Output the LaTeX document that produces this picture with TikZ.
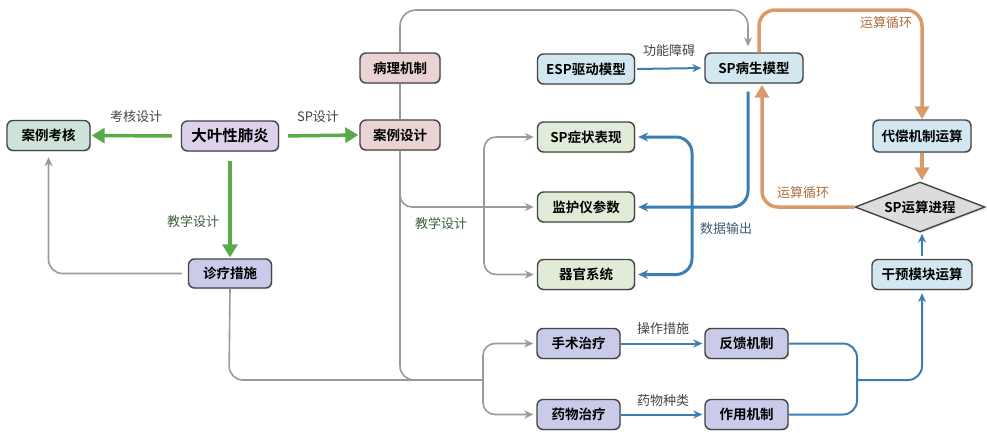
\documentclass[tikz,border=0pt]{standalone}
\usepackage{fontspec}
\setmainfont{Noto Sans CJK SC}[BoldFont={Noto Sans CJK SC Bold}]
\usetikzlibrary{shapes.geometric,arrows.meta,shadows,calc}
\definecolor{bordc}{HTML}{454545}
\definecolor{fgreen}{HTML}{CFE2D8}
\definecolor{flav}{HTML}{DCD2EB}
\definecolor{fpink}{HTML}{E9D3D3}
\definecolor{fblue}{HTML}{D2E7F0}
\definecolor{fmint}{HTML}{E0EBD8}
\definecolor{fpurp}{HTML}{C9CBE8}
\definecolor{fgray}{HTML}{DCDCDC}
\definecolor{cgreen}{HTML}{5BAA48}
\definecolor{corange}{HTML}{D99B6B}
\definecolor{cblue}{HTML}{3B7FB2}
\definecolor{cgray}{HTML}{9A9A9A}
\definecolor{lgreen}{HTML}{3F5E3F}
\definecolor{lorange}{HTML}{B0703F}
\definecolor{lblue}{HTML}{3E5C78}
\definecolor{ldark}{HTML}{444444}
\begin{document}
\begin{tikzpicture}[x=1pt,y=-1pt,
  box/.style={draw=bordc, line width=1.4pt, rounded corners=6pt, minimum height=30pt,
    inner xsep=4pt, font=\bfseries\fontsize{13.5}{15}\selectfont,
    drop shadow={opacity=0.25, shadow xshift=1.2pt, shadow yshift=-1.2pt}},
  lab/.style={font=\fontsize{13}{15}\selectfont, text=ldark},
  garrow/.style={draw=cgreen, line width=3.5pt, -{Triangle[length=13pt,width=15pt]}, shorten <=9pt, shorten >=1pt},
  oarrow/.style={draw=corange, line width=3.5pt, -{Triangle[length=13pt,width=14pt]}},
  barrowthick/.style={draw=cblue, line width=3pt, -{Stealth[length=10pt,width=9pt]}},
  barrow/.style={draw=cblue, line width=2pt, -{Stealth[length=9pt,width=8pt]}},
  grarrow/.style={draw=cgray, line width=1.6pt, -{Stealth[length=9pt,width=8pt]}},
  grline/.style={draw=cgray, line width=1.6pt},
]
\useasboundingbox[fill=white] (0,0) rectangle (987,432);

% nodes
\node[box, fill=fgreen, minimum width=83pt] (kaohe) at (48.5,135.5) {案例考核};
\node[box, fill=flav, minimum width=97pt, font=\bfseries\fontsize{15.5}{17}\selectfont] (dayu) at (230,136) {大叶性肺炎};
\node[box, fill=fpink, minimum width=80pt] (bingli) at (400,68) {病理机制};
\node[box, fill=fpink, minimum width=80pt] (anli) at (400,135) {案例设计};
\node[box, fill=fpurp, minimum width=83pt, minimum height=29pt] (zhenliao) at (230,273.5) {诊疗措施};
\node[box, fill=fblue, minimum width=97pt] (esp) at (586,69) {ESP驱动模型};
\node[box, fill=fblue, minimum width=98pt] (spbs) at (754,68) {SP病生模型};
\node[box, fill=fmint, minimum width=97pt] (spzz) at (586,137) {SP症状表现};
\node[box, fill=fmint, minimum width=97pt] (jhy) at (586,207) {监护仪参数};
\node[box, fill=fmint, minimum width=97pt] (qg) at (586,274.5) {器官系统};
\node[box, fill=fblue, minimum width=98pt, minimum height=32pt] (daichang) at (922,136) {代偿机制运算};
\node[draw=bordc, line width=1.4pt, fill=fgray, diamond, aspect=2.6, minimum width=130pt, minimum height=50pt,
  inner sep=0pt, font=\bfseries\fontsize{13.5}{15}\selectfont,
  drop shadow={opacity=0.25, shadow xshift=1.2pt, shadow yshift=-1.2pt}] (proc) at (920,207) {SP运算进程};
\node[box, fill=fblue, minimum width=100pt] (ganyu) at (922,274.5) {干预模块运算};
\node[box, fill=fpurp, minimum width=83pt] (shoushu) at (578.5,343.5) {手术治疗};
\node[box, fill=fpurp, minimum width=83pt] (yaowu) at (578.5,414.5) {药物治疗};
\node[box, fill=fpurp, minimum width=83pt] (fankui) at (746.5,343.5) {反馈机制};
\node[box, fill=fpurp, minimum width=83pt] (zuoyong) at (746.5,414.5) {作用机制};

% junction coordinates
\coordinate (jbot) at (483,380);
\coordinate (jteach) at (484,207);
\coordinate (jmerge) at (857,380);

% green arrows
\draw[garrow] (dayu.west) -- (kaohe.east);
\draw[garrow] (dayu.east) -- (anli.west);
\draw[garrow] (dayu.south) -- (zhenliao.north);

% gray: 诊疗措施 -> 案例考核
\draw[grarrow, rounded corners=14pt, shorten <=6pt, shorten >=6pt] (zhenliao.west) -- (48.5,273.5) -- (kaohe.south);
% gray: 病理机制 - 案例设计
\draw[grline] (bingli.south) -- (anli.north);
% gray top: 病理机制 -> SP病生模型
\draw[grarrow, rounded corners=16pt, shorten >=6pt] (bingli.north) -- (400,10) -- (748,10) -- ($(spbs.north)+(-6,0)$);
% gray: 案例设计 down to bottom line
\draw[grline, rounded corners=14pt] (anli.south) -- (400,380) -- (jbot);
\draw[grline, rounded corners=14pt] (zhenliao.south) -- (229,380) -- (jbot);
% branch to 监护仪参数 and the teaching tree
\draw[grarrow, rounded corners=12pt, shorten >=3pt] (400,190) -- (400,207) -- (jhy.west);
\draw[grarrow, rounded corners=12pt, shorten >=3pt] (jteach) -- (484,137) -- (spzz.west);
\draw[grarrow, rounded corners=12pt, shorten >=3pt] (jteach) -- (484,274.5) -- (qg.west);
% bottom branch to treatments
\draw[grarrow, rounded corners=12pt, shorten >=3pt] (jbot) -- (483,343.5) -- (shoushu.west);
\draw[grarrow, rounded corners=12pt, shorten >=3pt] (jbot) -- (483,414.5) -- (yaowu.west);

% blue arrows
\draw[barrow, shorten <=2pt, shorten >=3pt] (esp.east) -- (spbs.west);
\draw[barrowthick, rounded corners=16pt, shorten >=3pt] ($(spbs.south)+(-6,8)$) -- (748,207) -- (jhy.east);
\draw[draw=cblue, line width=3pt, {Stealth[length=10pt,width=9pt]}-{Stealth[length=10pt,width=9pt]}, rounded corners=16pt, shorten <=3pt, shorten >=3pt]
  (spzz.east) -- (692,137) -- (692,274.5) -- (qg.east);
\draw[barrow, shorten >=2pt] (shoushu.east) -- (fankui.west);
\draw[barrow, shorten >=2pt] (yaowu.east) -- (zuoyong.west);
\draw[draw=cblue, line width=2pt, rounded corners=14pt] (fankui.east) -- (857,343.5) -- (857,414.5) -- (zuoyong.east);
\draw[barrow, rounded corners=14pt, shorten >=3pt] (jmerge) -- (922,380) -- (ganyu.south);
\draw[barrow, shorten <=3pt, shorten >=1pt] (ganyu.north) -- (ganyu.north |- proc.south);

% orange arrows
\draw[oarrow, rounded corners=16pt] ($(spbs.north)+(5,0)$) -- (759,10) -- (922,10) -- (daichang.north);
\draw[oarrow, shorten >=1pt] (daichang.south) -- (daichang.south |- proc.north);
\draw[oarrow, rounded corners=16pt, shorten >=1pt] (proc.west) -- (762,207) -- ($(spbs.south)+(8,0)$);

% labels
\node[lab] (l1) at (136,117) {考核设计};
\node[lab] (l2) at (318,117) {SP设计};
\node[lab, text=lgreen] (l3) at (193,222) {教学设计};
\node[lab, text=lgreen] (l4) at (441,224) {教学设计};
\node[lab] (l5) at (669,51) {功能障碍};
\node[lab, text=lorange] (l6) at (886,23) {运算循环};
\node[lab, text=lorange] (l7) at (803,193) {运算循环};
\node[lab, text=lblue] (l8) at (726,229) {数据输出};
\node[lab] (l9) at (663,329) {操作措施};
\node[lab] (l10) at (663,401) {药物种类};
\end{tikzpicture}
\end{document}
